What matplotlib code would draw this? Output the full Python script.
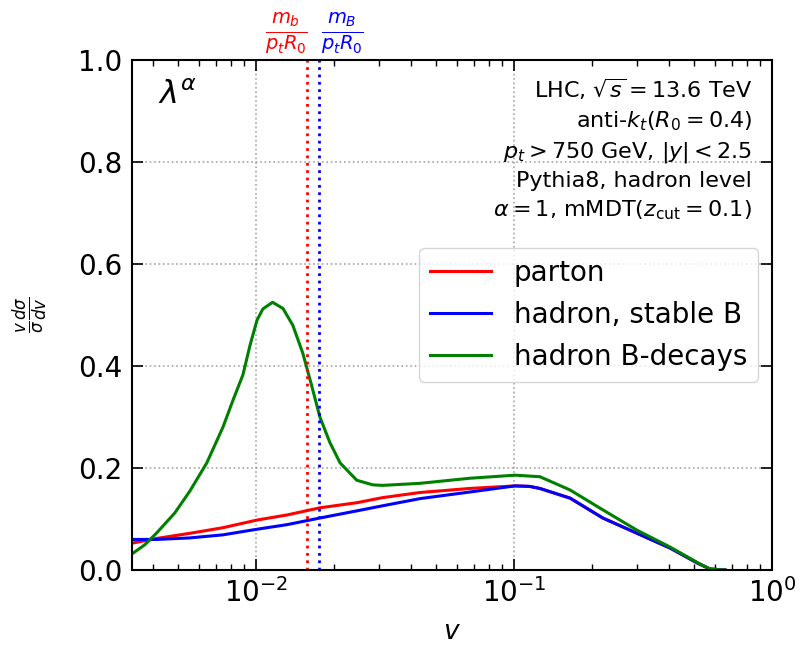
import numpy as np
import matplotlib
matplotlib.use("Agg")
import matplotlib.pyplot as plt
import matplotlib.transforms as mtransforms

# v grid for parton / hadron (stable B)
v_pb = [0.00334, 0.00413, 0.00555, 0.00745, 0.0101, 0.0132, 0.0177, 0.0246,
        0.031, 0.0432, 0.0675, 0.101, 0.115, 0.126, 0.165, 0.221, 0.300, 0.403,
        0.517, 0.575, 0.658]
parton = [0.053, 0.062, 0.072, 0.083, 0.098, 0.108, 0.122, 0.132,
          0.142, 0.152, 0.160, 0.165, 0.164, 0.160, 0.141, 0.102, 0.072, 0.043,
          0.013, 0.002, 0.0]
hadron_stable = [0.060, 0.060, 0.063, 0.069, 0.080, 0.089, 0.102, 0.116,
                 0.126, 0.140, 0.153, 0.165, 0.164, 0.160, 0.141, 0.102, 0.072, 0.043,
                 0.013, 0.002, 0.0]

# v grid for hadron with B decays
v_g = [0.00334, 0.00372, 0.00413, 0.00485, 0.00555, 0.00645, 0.00745, 0.00815,
       0.00891, 0.00948, 0.0101, 0.01064, 0.0116, 0.01273, 0.0139, 0.0152,
       0.01648, 0.0177, 0.01935, 0.0212, 0.0246, 0.0284, 0.031, 0.0432,
       0.0675, 0.101, 0.126, 0.165, 0.221, 0.300, 0.403, 0.517, 0.575, 0.658]
hadron_decays = [0.033, 0.05, 0.073, 0.112, 0.155, 0.21, 0.28, 0.333,
                 0.383, 0.44, 0.49, 0.512, 0.525, 0.513, 0.48, 0.425,
                 0.36, 0.30, 0.25, 0.21, 0.176, 0.167, 0.166, 0.170,
                 0.180, 0.186, 0.183, 0.157, 0.118, 0.078, 0.045, 0.014, 0.002, 0.0]

# mass lines m/(pt R0)
v_mb = 0.0158
v_mB = 0.0176

fig = plt.figure(figsize=(8, 6.46), dpi=100)
ax = fig.add_axes([0.165, 0.1176, 0.8, 0.7894])

ax.plot(v_pb, parton, color="red", lw=2.2, label="parton")
ax.plot(v_pb, hadron_stable, color="blue", lw=2.2, label="hadron, stable B")
ax.plot(v_g, hadron_decays, color="green", lw=2.2, label="hadron B-decays")

ax.axvline(v_mb, color="red", ls=":", lw=2)
ax.axvline(v_mB, color="blue", ls=":", lw=2)

ax.set_xscale("log")
ax.set_xlim(0.00331, 1.0)
ax.set_ylim(0, 1.0)
ax.set_yticks([0, 0.2, 0.4, 0.6, 0.8, 1.0])
ax.grid(True, which="major", ls=":", color="gray", alpha=0.7, lw=1.2)

ax.tick_params(which="both", direction="in", top=True, right=True, labelsize=20)
ax.tick_params(which="major", length=8, width=1.2)
ax.tick_params(which="minor", length=4, width=1)
ax.tick_params(axis="x", pad=6)
ax.tick_params(axis="y", pad=7)
for s in ax.spines.values():
    s.set_linewidth(1.5)

ax.set_xlabel("$v$", fontsize=19, labelpad=8)
ax.set_ylabel(r"$\frac{v}{\sigma}\frac{d\sigma}{dv}$", fontsize=17, labelpad=20)

ax.text(0.04, 0.93, r"$\lambda^{\alpha}$", transform=ax.transAxes,
        fontsize=23, va="center", ha="left")

ax.text(0.969, 0.967,
        "LHC, $\\sqrt{s} = 13.6$ TeV\n"
        "anti-$k_t(R_0 = 0.4)$\n"
        "$p_t > 750$ GeV, $|y| < 2.5$\n"
        "Pythia8, hadron level\n"
        "$\\alpha = 1$, mMDT$(z_{\\rm cut} = 0.1)$",
        transform=ax.transAxes, ha="right", va="top", fontsize=16,
        linespacing=1.4)

trans = mtransforms.blended_transform_factory(ax.transData, ax.transAxes)
ax.text(v_mb * 1.01, 1.008, r"$\frac{m_b}{p_t R_0}$", transform=trans,
        color="red", fontsize=20, ha="right", va="bottom")
ax.text(v_mB * 1.02, 1.008, r"$\frac{m_B}{p_t R_0}$", transform=trans,
        color="blue", fontsize=20, ha="left", va="bottom")

ax.legend(loc="center right", fontsize=20, handlelength=2.2)

fig.savefig("out.png", dpi=100)
